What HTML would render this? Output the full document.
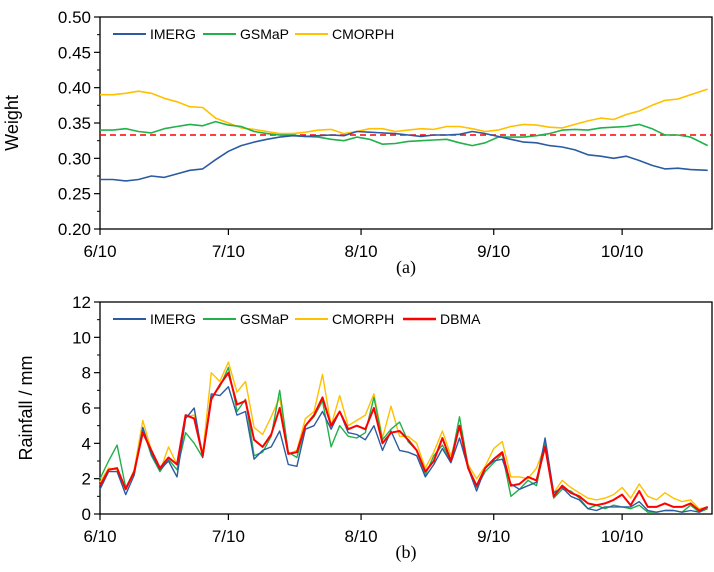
<!DOCTYPE html>
<html><head><meta charset="utf-8"><style>
html,body{margin:0;padding:0;background:#fff}
svg{display:block;font-family:"Liberation Sans",sans-serif}
</style></head><body>
<svg id="c" width="714" height="572"></svg>
<script>
const wDays=[0,3,6,9,12,15,18,21,24,27,30,33,36,39,42,45,48,51,54,57,60,63,66,69,72,75,78,81,84,87,90,93,96,99,102,105,108,111,114,117,120,123,126,129,132,135,138,142];
const wImerg=[0.270,0.270,0.268,0.270,0.275,0.273,0.278,0.283,0.285,0.298,0.310,0.318,0.323,0.327,0.330,0.332,0.331,0.332,0.333,0.332,0.338,0.337,0.336,0.335,0.333,0.331,0.333,0.333,0.334,0.338,0.335,0.331,0.327,0.323,0.322,0.318,0.316,0.312,0.305,0.303,0.300,0.303,0.297,0.290,0.285,0.286,0.284,0.283];
const wGsmap=[0.340,0.340,0.342,0.338,0.336,0.342,0.345,0.348,0.346,0.352,0.347,0.345,0.338,0.335,0.333,0.333,0.331,0.330,0.327,0.325,0.330,0.327,0.320,0.321,0.324,0.325,0.326,0.327,0.322,0.318,0.322,0.330,0.330,0.330,0.332,0.335,0.340,0.341,0.340,0.343,0.344,0.345,0.348,0.342,0.333,0.333,0.330,0.318];
const wCmorph=[0.390,0.390,0.392,0.395,0.392,0.385,0.380,0.373,0.372,0.357,0.350,0.343,0.341,0.338,0.335,0.335,0.337,0.340,0.341,0.335,0.338,0.342,0.342,0.338,0.340,0.342,0.341,0.345,0.345,0.342,0.338,0.340,0.345,0.348,0.347,0.344,0.343,0.348,0.353,0.357,0.355,0.362,0.367,0.375,0.382,0.384,0.390,0.398];
const eqWeight=0.333;
const rDays=[];for(let d=0;d<=142;d+=2)rDays.push(d);
const rImerg=[1.4,2.4,2.4,1.1,2.2,4.9,3.4,2.5,3.0,2.1,5.4,6.0,3.2,6.8,6.7,7.2,5.6,5.8,3.1,3.6,3.8,4.7,2.8,2.7,4.8,5.0,5.8,4.8,5.8,4.6,4.5,4.2,5.0,3.6,4.7,3.6,3.5,3.3,2.1,2.8,3.7,2.9,4.3,2.6,1.3,2.6,3.0,3.1,1.7,1.4,1.6,1.8,4.3,1.2,1.5,1.0,0.8,0.3,0.2,0.4,0.4,0.4,0.4,0.7,0.2,0.1,0.2,0.2,0.1,0.2,0.1,0.4];
const rGsmap=[2.0,3.0,3.9,1.5,2.4,4.8,3.3,2.4,3.1,2.5,4.6,4.0,3.2,6.6,7.2,8.3,5.8,6.5,3.3,3.5,4.4,7.0,3.5,3.2,5.0,5.5,6.4,3.8,5.0,4.4,4.3,4.6,6.6,4.2,4.8,5.2,4.1,3.6,2.2,3.3,3.9,3.0,5.5,2.7,1.5,2.4,2.9,3.4,1.0,1.4,1.9,1.6,4.0,0.9,1.4,1.3,0.9,0.3,0.5,0.3,0.5,0.4,0.3,0.5,0.1,0.1,0.2,0.2,0.1,0.5,0.1,0.3];
const rCmorph=[1.8,2.6,2.5,1.4,2.5,5.3,3.6,2.4,3.8,2.8,5.5,5.6,3.4,8.0,7.5,8.6,6.9,7.5,4.9,4.5,5.5,6.6,3.4,3.6,5.4,5.8,7.9,5.0,6.7,5.0,5.3,5.6,6.8,4.3,6.1,4.4,4.4,4.0,2.6,3.5,4.7,3.3,4.9,2.8,2.0,2.7,3.7,4.1,2.1,2.1,2.0,2.6,3.9,1.2,1.9,1.5,1.2,0.9,0.8,0.9,1.1,1.5,0.9,1.7,1.0,0.8,1.2,0.9,0.7,0.8,0.3,0.4];
const rDbma=[1.6,2.5,2.6,1.4,2.4,4.6,3.6,2.6,3.2,2.8,5.6,5.4,3.3,6.5,7.3,8.0,6.2,6.4,4.2,3.8,4.5,6.0,3.4,3.5,5.0,5.6,6.6,5.0,5.8,4.8,5.0,4.8,6.0,4.0,4.6,4.7,4.2,3.6,2.4,3.0,4.3,3.0,5.0,2.6,1.6,2.6,3.1,3.5,1.6,1.7,2.1,1.9,3.8,1.0,1.6,1.2,1.0,0.6,0.5,0.6,0.8,1.1,0.5,1.3,0.4,0.4,0.6,0.4,0.4,0.6,0.2,0.4];
const xTickDays=[0,30,61,92,122];
const xTickLabels=["6/10","7/10","8/10","9/10","10/10"];
const wTicks=[0.20,0.25,0.30,0.35,0.40,0.45,0.50];
const rTicks=[0,2,4,6,8,10,12];

const svg=document.getElementById('c');const NS='http://www.w3.org/2000/svg';
function mk(t,a,p){const e=document.createElementNS(NS,t);for(const k in a)e.setAttribute(k,a[k]);(p||svg).appendChild(e);return e;}
const L=100,R=712,DMAX=143;
const xs=d=>L+(R-L)*d/DMAX;
function panel(top,bot,ymin,ymax,ticks,fmt,title,titleX,name){
  const g=mk('g',{});
  
  
  const ys=v=>bot-(bot-top)*(v-ymin)/(ymax-ymin);
  const fr=mk('rect',{x:L,y:top,width:R-L,height:bot-top,fill:'none',stroke:'#000','stroke-width':1.3},g);
  
  
  ticks.forEach((t,i)=>{const y=ys(t);
    mk('line',{x1:L-6,x2:L,y1:y,y2:y,stroke:'#000','stroke-width':1.2},g);
    if(i<ticks.length-1){const ym=ys((t+ticks[i+1])/2);mk('line',{x1:L-3,x2:L,y1:ym,y2:ym,stroke:'#000','stroke-width':1},g);}
    const tx=mk('text',{x:L-9,y:y+6,'text-anchor':'end','font-size':17},g);tx.textContent=fmt(t);
    
    });
  xTickDays.forEach((d,i)=>{const x=xs(d);
    mk('line',{x1:x,x2:x,y1:bot,y2:bot+6,stroke:'#000','stroke-width':1.2},g);
    const tx=mk('text',{x:x,y:bot+28,'text-anchor':'middle','font-size':17},g);tx.textContent=xTickLabels[i];
    
    });
  const cy=(top+bot)/2;
  const tt=mk('text',{x:titleX,y:cy,'text-anchor':'middle','font-size':18,transform:`rotate(-90 ${titleX} ${cy})`},g);
  tt.textContent=title;
  
  
  return {g,ys};
}
function line(p,days,vals,color,w,name){
  const d=vals.map((v,i)=>(i?'L':'M')+xs(days[i]).toFixed(1)+','+p.ys(v).toFixed(1)).join('');
  const e=mk('path',{d:d,fill:'none',stroke:color,'stroke-width':w,'stroke-linejoin':'round'},p.g);
  
  
}
function legend(p,y,items){
  const xs0=[113,203,295,403];
  items.forEach((it,i)=>{const x=xs0[i];
    const g=mk('g',{},p.g);
    
    
    mk('line',{x1:x,x2:x+33,y1:y,y2:y,stroke:it[1],'stroke-width':it[2]},g);
    const t=mk('text',{x:x+37,y:y+5,'font-size':14},g);t.textContent=it[0];});
}
const C={IMERG:'#2b5ba3',GSMaP:'#22b04b',CMORPH:'#ffc000',DBMA:'#ff0000'};
const pa=panel(17,229,0.20,0.50,wTicks,v=>v.toFixed(2),'Weight',18,'weight-panel');
const ey=pa.ys(eqWeight);
const eq=mk('line',{x1:L,x2:R,y1:ey,y2:ey,stroke:'#ff0000','stroke-width':1.5,'stroke-dasharray':'6,4'},pa.g);


line(pa,wDays,wCmorph,C.CMORPH,1.6,'cmorph-weight-line');
line(pa,wDays,wGsmap,C.GSMaP,1.6,'gsmap-weight-line');
line(pa,wDays,wImerg,C.IMERG,1.6,'imerg-weight-line');
legend(pa,34,[['IMERG',C.IMERG,2],['GSMaP',C.GSMaP,2],['CMORPH',C.CMORPH,2]]);
const pb=panel(302,514,0,12,rTicks,v=>String(v),'Rainfall / mm',32,'rainfall-panel');
line(pb,rDays,rCmorph,C.CMORPH,1.4,'cmorph-rainfall-line');
line(pb,rDays,rGsmap,C.GSMaP,1.4,'gsmap-rainfall-line');
line(pb,rDays,rImerg,C.IMERG,1.4,'imerg-rainfall-line');
line(pb,rDays,rDbma,C.DBMA,2,'dbma-rainfall-line');
legend(pb,319,[['IMERG',C.IMERG,2],['GSMaP',C.GSMaP,2],['CMORPH',C.CMORPH,2],['DBMA',C.DBMA,2.5]]);
[['(a)',273,'panel-label-a'],['(b)',558,'panel-label-b']].forEach(a=>{
  const t=mk('text',{x:406,y:a[1],'text-anchor':'middle','font-size':18,'font-family':'Liberation Serif,serif'});
  t.textContent=a[0];
  
  });
</script>
</body></html>
